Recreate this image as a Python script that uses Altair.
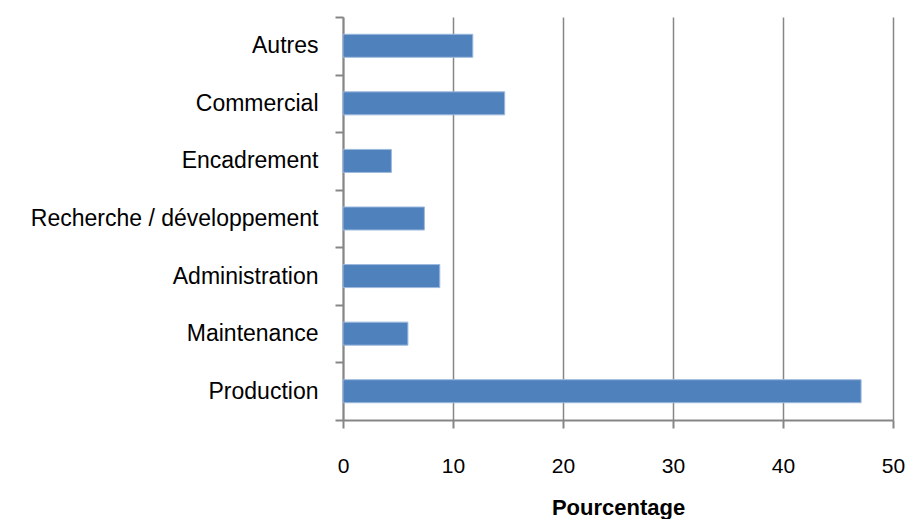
import altair as alt
import pandas as pd

categories = ["Autres", "Commercial", "Encadrement", "Recherche / développement",
              "Administration", "Maintenance", "Production"]
values = [11.8, 14.7, 4.4, 7.4, 8.8, 5.9, 47.1]
x_ticks = [0, 10, 20, 30, 40, 50]

df = pd.DataFrame({"cat": categories, "val": values})

FONT = "Liberation Sans"
GRAY = "#868686"

chart = alt.Chart(df).mark_bar(
    color="#4F81BD", stroke="#9DB9DD", strokeWidth=1,
    height=alt.RelativeBandSize(0.4),
).encode(
    x=alt.X("val:Q", title="Pourcentage",
            scale=alt.Scale(domain=[0, 50], nice=False),
            axis=alt.Axis(values=x_ticks, grid=True,
                          gridColor=GRAY, gridWidth=1.5,
                          domainColor=GRAY, domainWidth=2,
                          tickColor=GRAY, tickWidth=2, tickSize=8,
                          labelFont=FONT, labelFontSize=21, labelColor="black",
                          labelPadding=27, labelFlush=False,
                          titleFont=FONT, titleFontSize=22, titleFontWeight="bold",
                          titleColor="black", titleY=94, titleBaseline="alphabetic")),
    y=alt.Y("cat:N", sort=categories, title=None,
            scale=alt.Scale(paddingInner=0, paddingOuter=0),
            axis=alt.Axis(grid=False, tickBand="extent",
                          domainColor=GRAY, domainWidth=2,
                          tickColor=GRAY, tickWidth=2, tickSize=8,
                          labelFont=FONT, labelFontSize=23, labelColor="black",
                          labelPadding=17, labelLimit=0)),
).properties(
    width=550, height=403,
    autosize=alt.AutoSizeParams(type="none"),
    padding={"left": 335, "top": 9, "right": 12, "bottom": 99},
).configure_view(stroke=None)

chart.save("out.html", embed_options={"renderer": "svg", "actions": False})
